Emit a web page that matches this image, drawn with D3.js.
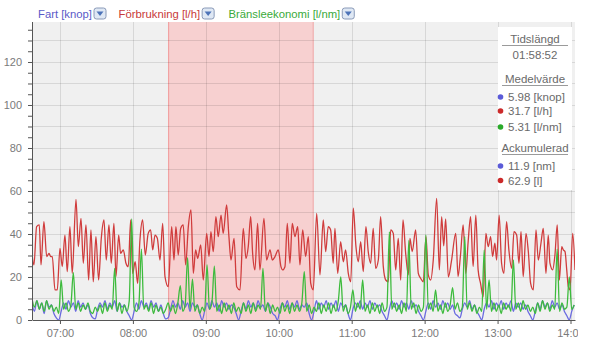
<!DOCTYPE html>
<html>
<head>
<meta charset="utf-8">
<script src="https://cdn.jsdelivr.net/npm/d3@7"></script>
<style>
body { margin: 0; background: #fff; font-family: "Liberation Sans", Arial, sans-serif; }
.axis text { fill: #7a7a7a; font-size: 11px; font-family: "Liberation Sans", Arial, sans-serif; }
.axis path, .axis line { stroke: #555; }
</style>
</head>
<body>
<div id="chart"></div>
<script>
// Minutes after 06:00 for start / end of the visible range and the selection
var rangeMinutes = [37, 483.7];
var selectionMinutes = [149, 267.87];

// Förbrukning [l/h]: [minutes after 06:00, value]
var fuelRate = [
	[36.7,32.6],[38.6,25.6],[40.8,43.4],[43.0,44.2],[44.4,25.6],[46.8,45.7],[49.1,29.5],[51,31],[52.4,29.5],[53.7,29.5],
	[55.9,14],[57.8,14],[60,33.3],[61.9,24.8],[64.1,39.5],[66,22.5],[68.2,43.4],[70.1,21.7],[73.2,56.1],[75.1,34.1],
	[77.3,47.3],[79.2,26.4],[81.4,44.2],[83.6,18.6],[85.5,41.9],[87.4,17.8],[89.6,38.8],[91.8,18.6],[94,38],[96.2,46.5],
	[98.1,27.9],[100.3,44.2],[102.2,26.4],[104.4,44.9],[106.1,20.2],[108.3,39.5],[109.9,31],[112.1,32.6],[114.3,26.4],[116.2,24.8],
	[118.2,46.5],[119.8,21.7],[121.9,27.1],[123.9,17],[125.8,37.2],[128,46.5],[130.2,30.2],[132.6,40.3],[134.6,41.9],[136.3,32.6],
	[138.2,39.5],[140.1,38],[142.3,27.9],[144.5,44.9],[146.4,20.2],[149.1,15.5],[151.9,43.4],[153.8,27.9],[155.4,43.4],[157.3,30.2],
	[159.3,42.6],[161.4,44.2],[163.4,25.6],[165.6,43.4],[167.8,51.2],[169.7,21.7],[171.6,32.6],[173.3,28.7],[175.8,34.9],[177.9,18.6],
	[180.7,40.3],[182.6,29.5],[184.2,41.1],[186.1,31.8],[188.3,48.1],[190.2,38.8],[192.5,48.8],[194.3,40.3],[197.1,53.5],[199,38.8],
	[200.7,27.9],[203.2,38],[205.4,15.5],[208.1,14],[210.8,42.6],[213,28.7],[214.9,34.1],[216.9,48.1],[218.5,31],[220.4,23.3],
	[222.6,44.9],[224.5,23.3],[227.8,47.3],[230,27.9],[232.8,32.6],[234.7,27.9],[236.9,29.5],[239.6,32.6],[241.8,24.8],[243.2,23.3],
	[245.1,24.8],[247,44.9],[249.2,26.4],[251.1,44.9],[253.3,38.8],[255.6,43.4],[257.4,25.6],[259.7,41.9],[262.1,29.5],[264.3,38.8],
	[266.3,17],[268.4,14],[271.2,49.6],[273.9,21],[276.6,46.5],[278.6,31.8],[280.7,43.4],[282.7,41.9],[284.8,26.4],[286.2,42.6],
	[288.5,21.7],[290.9,36.4],[293.1,27.1],[295,32.6],[297.2,21.7],[299.2,17.8],[301.3,52],[303.5,34.1],[305.4,27.1],[307.4,36.4],
	[309.5,22.5],[311.7,43.4],[313.6,31.8],[315.6,26.4],[317.7,42.6],[319.7,24],[321.9,27.9],[323.8,48.1],[326,24.8],[328,18.6],
	[330.1,17.8],[332.1,41.9],[334.2,40.3],[336.2,23.3],[338.3,38],[340.3,18.6],[342.2,46.5],[344.4,31],[346.6,21],[347.9,38],
	[349.8,31.8],[352.6,41.9],[354.8,21.7],[356.7,19.4],[358.9,17.8],[361.1,38.8],[363,21],[365,18.6],[367.1,27.9],[369.9,56.6],
	[372.1,23.3],[374,48.1],[375.7,34.5],[377.3,47],[379.5,20],[382,27.1],[385.6,40.3],[387.5,20.2],[389.5,30.2],[391.7,44.2],
	[393.9,21.7],[395.8,36.4],[397.8,48.1],[399.9,24.8],[402.1,48.8],[404,23.3],[406,17],[408.2,10.8],[410.4,40.3],[412.3,34.1],
	[414.3,38.8],[415.9,29.5],[417.8,35.7],[419.2,27.9],[421.3,48.8],[423.3,26.4],[425.2,21.7],[427.4,45.7],[429.3,32.6],[431.6,24],
	[433.5,41.1],[435.7,39.5],[437.6,26.4],[439.3,41.1],[441.1,20.2],[443.4,40.3],[445.3,31.8],[447.2,17],[449.4,14],[451.6,41.9],
	[453.5,27.9],[455.7,35.7],[457.6,42.6],[459.8,21.7],[461.7,39.5],[463.1,26.4],[465.3,23.3],[467.2,30.2],[469.1,44.2],[470.8,18.6],
	[472.8,34.1],[474.1,32.6],[475.5,31.8],[476.9,23.3],[478.2,15.5],[479.6,14],[481.8,40.3],[483.7,23.3]
];

// Fart [knop] and Bränsleekonomi [l/nm], sampled every 2 minutes from 06:37
var sampleStart = 37;
var sampleStep = 2;

var speed = [
	8,4,9,5,8,3,9,6,7,3, 1,0,4,8,5,9,6,8,4,9, 6,8,5,7,3,1,0.5,5,8,6, 9,5,8,6,9,4,8,6,7,4,
	2,0,4,8,5,9,6,8,5,9, 6,8,4,7,3,0.5,1,5,9,6, 8,5,9,6,8,4,8,6,7,3, 0,4,8,5,9,6,8,4,9,6,
	8,5,7,6,3,0,4,8,5,9, 6,8,5,9,6,7,4,8,6,3, 2,0,5,8,6,9,5,8,6,9, 5,7,6,8,3,0,4,9,5,8,
	6,9,5,8,6,9,4,8,6,7, 3,0,5,8,6,9,5,8,6,9, 5,8,6,7,4,2,0,5,9,6, 8,5,9,6,8,5,9,6,7,4,
	2,0,4,8,5,9,6,8,5,9, 6,8,5,7,3,2,1,5,8,6, 9,5,7,4,2,0,5,8,6,9, 5,8,6,9,5,8,6,9,4,8,
	6,8,5,7,4,2,0,4,8,5, 9,6,8,5,9,6,8,5,7,4, 2,0,4,7
];

var economy = [
	10,6,9,5,8,4,9,5,7,4, 6,3,18.6,5,8,4,7,22,5,8, 4,7,5,8,4,3,6,4,7,3, 8,4,7,5,24,4,8,3,7,4,
	9,47,6,4,8,33,5,7,4,8, 3,7,4,6,3,5,8,4,7,3, 8,16,4,7,29,5,19,4,7,3, 6,4,25.6,5,8,25,4,7,3,8,
	4,7,3,8,4,6,3,8,4,7, 3,8,4,7,5,24,4,8,3,7, 4,6,3,8,4,7,3,8,4,7, 4,8,22.5,4,7,3,6,4,8,3,
	7,4,8,3,7,4,9,20,4,7, 3,6,14,4,8,5,18.6,4,7,3, 8,4,7,3,8,4,6,41,5,8, 4,7,3,8,4,37,5,8,3,7,
	4,6,39.5,5,8,4,14,4,7,3, 8,4,7,15,5,8,4,6,38.8,5, 8,4,7,3,6,4,32.6,5,18.6,4, 8,4,7,3,8,5,7,4,28,5,
	8,4,9,5,7,4,6,3,8,4, 9,5,8,4,7,5,33,4,8,5, 6,20,5,7
];

// Legend and summary box texts
var seriesNames = ['Fart [knop]', 'Förbrukning [l/h]', 'Bränsleekonomi [l/nm]'];
var duration = '01:58:52';
var averages = ['5.98 [knop]', '31.7 [l/h]', '5.31 [l/nm]'];
var totals = ['11.9 [nm]', '62.9 [l]'];

var COLORS = {
	speed: '#6b6be0',
	fuel: '#d03c3c',
	economy: '#3dbb3d',
	speedText: '#5a5ac8',
	fuelText: '#c83a3a',
	economyText: '#3aaa3a'
};

/*
 * Minutes after 06:00 -> Date
 */
var toDate = function(m) {
	return new Date(2000, 0, 1, 6, 0, Math.round(m * 60));
};

var render = function() {
	var width = 578;
	var height = 352;
	var margins = { top: 22, left: 32 };
	var chartWidth = 543;
	var chartHeight = 298;

	var svg = d3.select('#chart')
		.append('svg')
		.attr('width', width)
		.attr('height', height);

	var xScale = d3.scaleTime()
		.domain([toDate(rangeMinutes[0]), toDate(rangeMinutes[1])])
		.range([0, chartWidth]);

	var yScale = d3.scaleLinear()
		.domain([0, 138.6])
		.range([chartHeight, 0]);

	var chartElement = svg.append('g')
		.attr('transform', 'translate(' + margins.left + ',' + margins.top + ')');

	svg.append('defs')
		.append('clipPath')
		.attr('id', 'plot-clip')
		.append('rect')
		.attr('y', -2)
		.attr('width', chartWidth)
		.attr('height', chartHeight + 2);

	// plot background
	chartElement.append('rect')
		.attr('width', chartWidth)
		.attr('height', chartHeight)
		.attr('fill', '#f0f0f0');

	// selection band
	var x0 = xScale(toDate(selectionMinutes[0]));
	var x1 = xScale(toDate(selectionMinutes[1]));
	chartElement.append('rect')
		.attr('x', x0)
		.attr('width', x1 - x0)
		.attr('height', chartHeight)
		.attr('fill', '#f7d0d0');
	chartElement.selectAll('.sel-edge')
		.data([x0, x1])
		.enter()
		.append('line')
		.attr('x1', function(d) { return d + 0.5; })
		.attr('x2', function(d) { return d + 0.5; })
		.attr('y1', 0)
		.attr('y2', chartHeight)
		.attr('stroke', '#f09a9a');

	// grid
	chartElement.append('g')
		.selectAll('line')
		.data(d3.range(10, 139, 10))
		.enter()
		.append('line')
		.attr('x1', 0)
		.attr('x2', chartWidth)
		.attr('y1', function(d) { return Math.round(yScale(d)) + 0.5; })
		.attr('y2', function(d) { return Math.round(yScale(d)) + 0.5; })
		.attr('stroke', 'rgba(0,0,0,0.1)');

	chartElement.append('g')
		.selectAll('line')
		.data(xScale.ticks(d3.timeHour.every(1)))
		.enter()
		.append('line')
		.attr('x1', function(d) { return Math.round(xScale(d)) + 0.5; })
		.attr('x2', function(d) { return Math.round(xScale(d)) + 0.5; })
		.attr('y1', 0)
		.attr('y2', chartHeight)
		.attr('stroke', 'rgba(0,0,0,0.1)');

	/*
	 * Lines
	 */
	var line = d3.line()
		.curve(d3.curveMonotoneX)
		.x(function(d) { return xScale(toDate(d[0])); })
		.y(function(d) { return yScale(d[1]); });

	var sampled = function(values) {
		return values.map(function(v, i) {
			return [sampleStart + i * sampleStep, v];
		});
	};

	var plot = chartElement.append('g').attr('clip-path', 'url(#plot-clip)');

	var series = [
		{ data: sampled(speed), color: COLORS.speed },
		{ data: fuelRate, color: COLORS.fuel },
		{ data: sampled(economy), color: COLORS.economy }
	];

	plot.selectAll('path')
		.data(series)
		.enter()
		.append('path')
		.attr('fill', 'none')
		.attr('stroke', function(d) { return d.color; })
		.attr('stroke-width', 1.3)
		.attr('stroke-linejoin', 'round')
		.attr('d', function(d) { return line(d.data); });

	/*
	 * Axes
	 */
	var yAxis = d3.axisLeft(yScale)
		.tickValues(d3.range(0, 136, 5))
		.tickFormat(function(d) { return d % 20 === 0 ? d : ''; })
		.tickSize(4)
		.tickSizeOuter(0)
		.tickPadding(6);

	chartElement.append('g')
		.attr('class', 'y axis')
		.call(yAxis);

	chartElement.select('.y.axis .domain')
		.attr('d', 'M0.5,0V' + chartHeight);

	var xAxis = d3.axisBottom(xScale)
		.ticks(d3.timeHour.every(1))
		.tickFormat(d3.timeFormat('%H:%M'))
		.tickSize(4)
		.tickSizeOuter(0)
		.tickPadding(5);

	chartElement.append('g')
		.attr('class', 'x axis')
		.attr('transform', 'translate(0,' + chartHeight + ')')
		.call(xAxis);

	/*
	 * Legend
	 */
	var legendX = [38, 118.5, 228.5];
	var legendColors = [COLORS.speedText, COLORS.fuelText, COLORS.economyText];
	var legend = svg.append('g').attr('class', 'legend');

	seriesNames.forEach(function(name, i) {
		var txt = legend.append('text')
			.attr('x', legendX[i])
			.attr('y', 17.5)
			.attr('fill', legendColors[i])
			.style('font-size', '11.3px')
			.text(name);
		var w = txt.node().getComputedTextLength();
		var icon = legend.append('g')
			.attr('transform', 'translate(' + (legendX[i] + w + 1.5) + ',7.5)');
		icon.append('rect')
			.attr('x', 0.5)
			.attr('y', 0.5)
			.attr('width', 12)
			.attr('height', 11)
			.attr('rx', 2.5)
			.attr('fill', '#dfe8f4')
			.attr('stroke', '#8a9ab8');
		icon.append('path')
			.attr('d', 'M3,4 L10,4 L6.5,8.5 Z')
			.attr('fill', '#4d73b8');
	});

	/*
	 * Summary box
	 */
	var box = svg.append('g').attr('class', 'summary');
	var cx = 535;
	var textColor = '#6a6a6a';

	box.append('rect')
		.attr('x', 498)
		.attr('y', 27)
		.attr('width', 74)
		.attr('height', 163)
		.attr('fill', '#fff');

	var heading = function(label, y, ul) {
		box.append('text')
			.attr('x', cx)
			.attr('y', y)
			.attr('text-anchor', 'middle')
			.attr('fill', textColor)
			.style('font-size', '11.5px')
			.text(label);
		box.append('line')
			.attr('x1', 502)
			.attr('x2', 568)
			.attr('y1', ul + 0.5)
			.attr('y2', ul + 0.5)
			.attr('stroke', '#9a9a9a');
	};

	var entry = function(label, y, color) {
		box.append('circle')
			.attr('cx', 500.5)
			.attr('cy', y - 4)
			.attr('r', 2.8)
			.attr('fill', color);
		box.append('text')
			.attr('x', 508)
			.attr('y', y)
			.attr('fill', textColor)
			.style('font-size', '11.5px')
			.text(label);
	};

	heading('Tidslängd', 42.5, 45);
	box.append('text')
		.attr('x', cx)
		.attr('y', 59)
		.attr('text-anchor', 'middle')
		.attr('fill', textColor)
		.style('font-size', '11.5px')
		.text(duration);

	heading('Medelvärde', 83, 85);
	var dotColors = ['#5b5bd8', '#cc2a2a', '#2aaa2a'];
	averages.forEach(function(a, i) {
		entry(a, [101, 115, 131][i], dotColors[i]);
	});

	heading('Ackumulerad', 152, 154);
	totals.forEach(function(a, i) {
		entry(a, [170, 184.5][i], dotColors[i]);
	});
};

window.onload = render;
</script>
</body>
</html>
